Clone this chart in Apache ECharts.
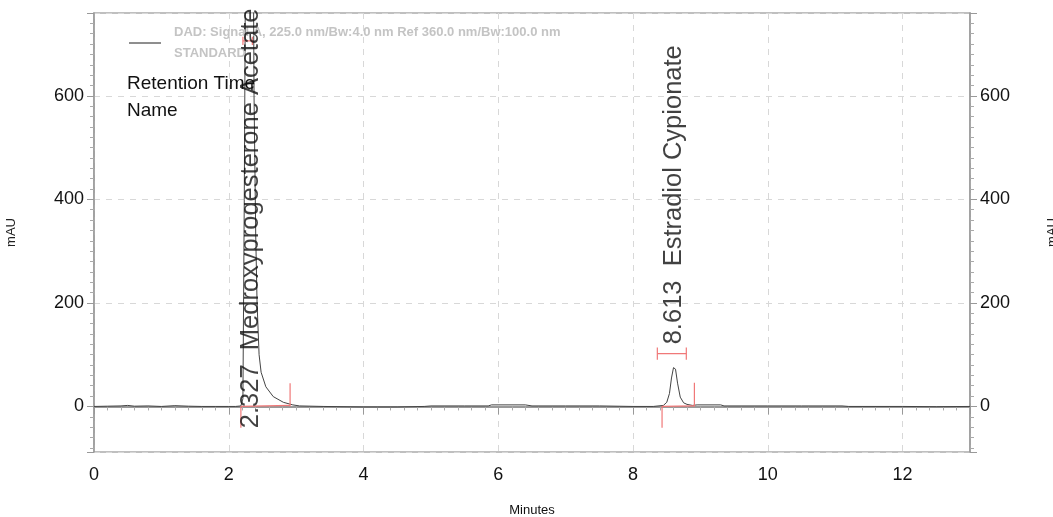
<!DOCTYPE html>
<html lang="en">
  <head>
    <meta charset="UTF-8" />
    <title>Chromatogram</title>
    <script src="https://cdn.jsdelivr.net/npm/echarts@6/dist/echarts.min.js"></script>
    <style>
      html, body { margin: 0; padding: 0; background: #fff; }
      #main { width: 1053px; height: 517px; }
    </style>
  </head>
  <body>
    <div id="main"></div>
    <script>
      // detector trace, [minutes, mAU]
      var signalPoints = [
        [0, 0], [0.2, 0.5], [0.4, 1], [0.5, 2], [0.6, 0.5], [0.8, 1], [1.0, 0], [1.2, 1.5],
        [1.4, 0.5], [1.6, 0], [1.8, 0], [2.0, 0], [2.1, 0], [2.18, 1], [2.21, 15],
        [2.23, 400], [2.25, 900], [2.29, 1200], [2.327, 1300], [2.36, 1000], [2.375, 600],
        [2.40, 330], [2.42, 200], [2.45, 100], [2.48, 66], [2.55, 38], [2.66, 19], [2.81, 8],
        [2.95, 3], [3.05, 1], [3.4, 0], [4.0, -1], [4.5, -1], [4.9, 0], [5.0, 1], [5.5, 1],
        [5.85, 1], [5.9, 3], [6.4, 3], [6.5, 1], [7.0, 1], [7.5, 1], [8.0, 0], [8.3, 0],
        [8.45, 2], [8.50, 8], [8.54, 25], [8.57, 55], [8.60, 75], [8.613, 77], [8.63, 72],
        [8.66, 45], [8.70, 18], [8.75, 7], [8.80, 4], [8.88, 2], [8.95, 3], [9.3, 3],
        [9.35, 1], [10.0, 1], [10.5, 1], [11.1, 1], [11.2, 0], [12.0, 0], [12.5, -0.5], [13.0, 0]
      ];

      // integrated peaks
      var peakTimes = [2.327, 8.613];
      var peakNames = ['Medroxyprogesterone Acetate', 'Estradiol Cypionate'];
      var labelBase = [-42, 120];   // mAU where the rotated label starts

      // integration marks (red), each one a polyline
      var integrationMarks = [
        [[2.18, -41], [2.18, 0], [2.91, 2]],
        [[2.91, 0], [2.91, 45]],
        [[8.43, -41], [8.43, 0], [8.91, 1]],
        [[8.91, 0], [8.91, 46]],
        [[2.21, 698], [2.21, 714]], [[2.21, 706], [2.35, 706]], [[2.35, 698], [2.35, 714]],
        [[8.36, 90], [8.36, 114]], [[8.36, 102], [8.79, 102]], [[8.79, 90], [8.79, 114]]
      ];

      var signalName = 'DAD: Signal A, 225.0 nm/Bw:4.0 nm Ref 360.0 nm/Bw:100.0 nm\nSTANDARD';
      var sans = "'Liberation Sans', Arial, sans-serif";
      var red = '#f07878';

      var myChart = echarts.init(document.getElementById('main'));

      var series = [{
        name: signalName,
        type: 'line',
        data: signalPoints,
        symbol: 'none',
        lineStyle: { color: '#444', width: 1 },
        itemStyle: { color: '#444' },
        z: 3
      }];

      integrationMarks.forEach(function (seg) {
        series.push({
          type: 'line',
          data: seg,
          symbol: 'none',
          silent: true,
          color: red,
          itemStyle: { color: red },
          lineStyle: { color: red, width: 1.2 },
          z: 4
        });
      });

      series.push({
        type: 'scatter',
        symbolSize: 0,
        silent: true,
        data: peakTimes.map(function (t, i) {
          return { value: [t, labelBase[i]], name: t.toFixed(3) + '  ' + peakNames[i] };
        }),
        label: {
          show: true,
          position: 'inside',
          rotate: 90,
          align: 'left',
          verticalAlign: 'middle',
          offset: [4, 4],
          fontFamily: sans,
          fontSize: 25.5,
          color: '#111',
          formatter: function (p) { return p.name; }
        },
        labelLayout: { hideOverlap: false },
        z: 5
      });

      function yAxisOpt(pos) {
        return {
          type: 'value',
          position: pos,
          min: -88,
          max: 760,
          splitNumber: 4,
          name: 'mAU',
          nameLocation: 'middle',
          nameRotate: 90,
          nameGap: 76,
          nameTextStyle: { fontFamily: sans, fontSize: 13, color: '#222' },
          axisLine: { show: true, lineStyle: { color: '#999', width: 1.5 } },
          axisTick: { show: true, length: 7, lineStyle: { color: '#999' } },
          minorTick: { show: true, splitNumber: 10, length: 4, lineStyle: { color: '#aaa' } },
          axisLabel: {
            showMinLabel: false,
            showMaxLabel: false,
            margin: 10,
            fontFamily: sans,
            fontSize: 18,
            color: '#111'
          },
          splitLine: pos === 'left'
            ? { show: true, lineStyle: { color: '#d8d8d8', type: [6, 6] } }
            : { show: false }
        };
      }

      var option = {
        backgroundColor: '#fff',
        animation: false,
        grid: {
          left: 94, right: 83, top: 13, bottom: 65,
          outerBoundsMode: 'none',
          containLabel: false,
          show: true, borderColor: '#aaa', borderWidth: 1.5
        },
        legend: {
          data: [{ name: signalName, icon: 'rect', itemStyle: { color: '#444' } }],
          left: 124,
          top: 17,
          itemWidth: 32,
          itemHeight: 1.2,
          textStyle: {
            color: '#c4c4c4',
            fontWeight: 'bold',
            fontFamily: sans,
            fontSize: 13,
            lineHeight: 21,
            padding: [0, 0, 0, 8]
          }
        },
        title: {
          text: 'Retention Time\nName',
          left: 122,
          top: 65,
          textStyle: {
            fontFamily: sans,
            fontSize: 19,
            fontWeight: 'normal',
            color: '#111',
            lineHeight: 27
          }
        },
        xAxis: {
          type: 'value',
          min: 0,
          max: 13,
          interval: 2,
          name: 'Minutes',
          nameLocation: 'middle',
          nameGap: 52,
          nameTextStyle: { fontFamily: sans, fontSize: 13, color: '#111' },
          axisLine: { lineStyle: { color: '#999', width: 2 } },
          axisTick: { length: 8, lineStyle: { color: '#999' } },
          minorTick: { show: true, splitNumber: 10, length: 4, lineStyle: { color: '#aaa' } },
          axisLabel: { margin: 14, fontFamily: sans, fontSize: 18, color: '#111', showMaxLabel: false },
          splitLine: { show: true, lineStyle: { color: '#d8d8d8', type: [6, 6] } }
        },
        yAxis: [yAxisOpt('left'), yAxisOpt('right')],
        series: series
      };

      myChart.setOption(option);
    </script>
  </body>
</html>
